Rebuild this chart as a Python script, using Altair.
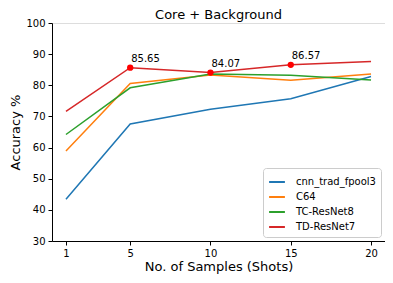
import altair as alt
import pandas as pd

shots = [1, 5, 10, 15, 20]
series_names = ["cnn_trad_fpool3", "C64", "TC-ResNet8", "TD-ResNet7"]
cnn = [43.4, 67.6, 72.3, 75.7, 82.8]
c64 = [58.9, 80.6, 83.3, 81.6, 83.6]
tc8 = [64.2, 79.2, 83.6, 83.2, 81.7]
td7 = [71.6, 85.65, 84.07, 86.57, 87.6]
colors = ["#1f77b4", "#ff7f0e", "#2ca02c", "#d62728"]
y_ticks = [30, 40, 50, 60, 70, 80, 90, 100]

highlight_shots = [5, 10, 15]
highlight_vals = [85.65, 84.07, 86.57]
highlight_labels = ["85.65", "84.07", "86.57"]

rows = []
for name, vals in zip(series_names, [cnn, c64, tc8, td7]):
    for s, v in zip(shots, vals):
        rows.append({"shots": s, "acc": v, "model": name, "label": ""})
for s, v, l in zip(highlight_shots, highlight_vals, highlight_labels):
    rows.append({"shots": s, "acc": v, "model": "highlight", "label": l})
df = pd.DataFrame(rows)

font = "DejaVu Sans"
x = alt.X("shots:Q", scale=alt.Scale(domain=[0.13, 20.87], nice=False, zero=False),
          axis=alt.Axis(values=shots, title="No. of Samples (Shots)", grid=False,
                        tickColor="black", domainColor="black", labelColor="black",
                        labelFontSize=10, titleFontSize=13, titleFontWeight="normal",
                        labelFont=font, titleFont=font, tickSize=4, labelPadding=3, titlePadding=2,
                        labelOverlap=False))
y = alt.Y("acc:Q", scale=alt.Scale(domain=[30, 100], nice=False, zero=False),
          axis=alt.Axis(values=y_ticks, title="Accuracy %", grid=False,
                        tickColor="black", domainColor="black", labelColor="black",
                        labelFontSize=10, titleFontSize=13, titleFontWeight="normal",
                        labelFont=font, titleFont=font, tickSize=4, labelPadding=3, titlePadding=3,
                        labelOverlap=False, labelFlush=False))

base = alt.Chart(df).encode(x=x, y=y)

lines = base.transform_filter(alt.datum.model != "highlight").mark_line(strokeWidth=1.5).encode(
    color=alt.Color("model:N", sort=series_names,
                    scale=alt.Scale(domain=series_names, range=colors),
                    legend=alt.Legend(title=None, orient="bottom-right", offset=4,
                                      symbolType="stroke", symbolStrokeWidth=2, symbolSize=250,
                                      labelFontSize=10, labelFont=font, labelColor="black",
                                      strokeColor="#cccccc", fillColor="white", padding=5,
                                      cornerRadius=3, rowPadding=1, labelOffset=10)),
    order=alt.Order("shots:Q"),
)

hl = base.transform_filter(alt.datum.model == "highlight")
points = hl.mark_point(filled=True, size=40, color="#ff0000", opacity=1)
labels = hl.mark_text(align="left", baseline="bottom", dx=1, dy=-4, fontSize=10,
                      font=font, color="black").encode(text="label:N")

chart = alt.layer(lines, points, labels).properties(
    width=333, height=218,
    title=alt.TitleParams("Core + Background", fontSize=13, fontWeight="normal", font=font,
                          color="black", offset=4, dy=8, frame="group"),
    autosize=alt.AutoSizeParams(type="none"),
    padding={"left": 44, "top": 15, "right": 0, "bottom": 34},
).configure_view(stroke="black", strokeWidth=1).configure(background="white")

chart.save("out.html", embed_options={"renderer": "svg", "actions": False})
